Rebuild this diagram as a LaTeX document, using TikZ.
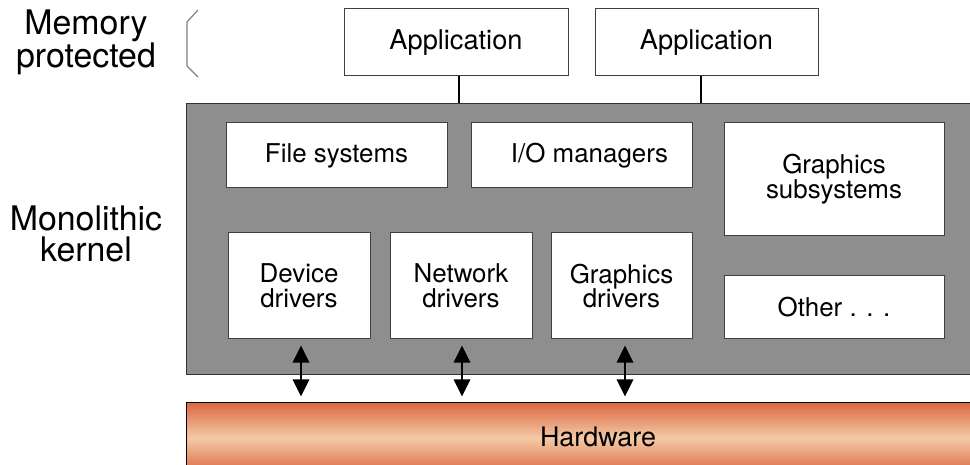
\documentclass[tikz,border=0pt]{standalone}
\usepackage{fontspec}
\setmainfont{TeX Gyre Heros}
\usetikzlibrary{arrows.meta,positioning}
\definecolor{kernelgray}{HTML}{8E8E8E}
\definecolor{hwdark}{HTML}{DB6A42}
\definecolor{hwlight}{HTML}{F4C9A6}
\tikzset{
    part/.style={draw=black!75, fill=white, line width=1bp, inner sep=0pt, align=center, font=\fontsize{26}{25}\selectfont},
    sidelabel/.style={align=center, font=\fontsize{34}{31}\selectfont},
    busarrow/.style={{Triangle[length=17bp,width=16bp]}-{Triangle[length=17bp,width=16bp]}, line width=2.8bp, shorten <=6bp, shorten >=6bp}
}

\begin{document}
\begin{tikzpicture}[x=1bp,y=-1bp]
    \useasboundingbox (0,0) rectangle (970,465);

    % Side labels
    \node[sidelabel] (memlabel) at (86,42) {Memory\\protected};
    \node[sidelabel] (monolabel) at (86,234) {Monolithic\\kernel};
    \draw[black!50, line width=1.2bp] (198,10) -- (187,22) -- (187,66) -- (198,77);

    % Kernel
    \node[draw=black!80, fill=kernelgray, line width=1bp, minimum width=800bp, minimum height=270bp] (kernel) at (587,239) {};

    % Applications
    \node[part, minimum width=224bp, minimum height=67bp, font=\fontsize{27.3}{25}\selectfont] (app1) at (456,42.5) {Application};
    \node[part, minimum width=223bp, minimum height=67bp, font=\fontsize{27.3}{25}\selectfont] (app2) at (706.5,42.5) {Application};
    \draw[line width=2bp] ([xshift=3bp]app1.south) -- ([xshift=3bp]app1.south |- kernel.north);
    \draw[line width=2bp] ([xshift=-5.5bp]app2.south) -- ([xshift=-5.5bp]app2.south |- kernel.north);

    % Kernel parts
    \node[part, minimum width=221bp, minimum height=65bp] (fs) at (336.5,155.5) {File systems};
    \node[part, minimum width=221bp, minimum height=65bp] (io) at (581.5,155.5) {\hspace{16bp}I/O managers};
    \node[part, minimum width=220bp, minimum height=113bp] (gsub) at (834,179.5) {Graphics\\subsystems};
    \node[part, minimum width=220bp, minimum height=63bp] (other) at (834,307.5) {\raisebox{-4bp}{Other . . .}};
    \node[part, minimum width=142bp, minimum height=106bp] (dev) at (299,286) {Device\\drivers};
    \node[part, minimum width=142bp, minimum height=106bp] (net) at (461,286) {Network\\drivers};
    \node[part, minimum width=141bp, minimum height=106bp] (gdrv) at (621.5,286) {Graphics\\drivers};

    % Hardware
    \node[draw=black, line width=1bp, top color=hwdark, bottom color=hwdark, middle color=hwlight, minimum width=822bp, minimum height=70bp, font=\fontsize{27}{30}\selectfont] (hw) at (598,438) {\raisebox{2bp}{Hardware}};

    % Driver links
    \draw[busarrow] ([xshift=2bp]dev.south) -- ([xshift=2bp]dev.south |- hw.north);
    \draw[busarrow] ([xshift=1bp]net.south) -- ([xshift=1bp]net.south |- hw.north);
    \draw[busarrow] ([xshift=3.5bp]gdrv.south) -- ([xshift=3.5bp]gdrv.south |- hw.north);
\end{tikzpicture}
\end{document}
